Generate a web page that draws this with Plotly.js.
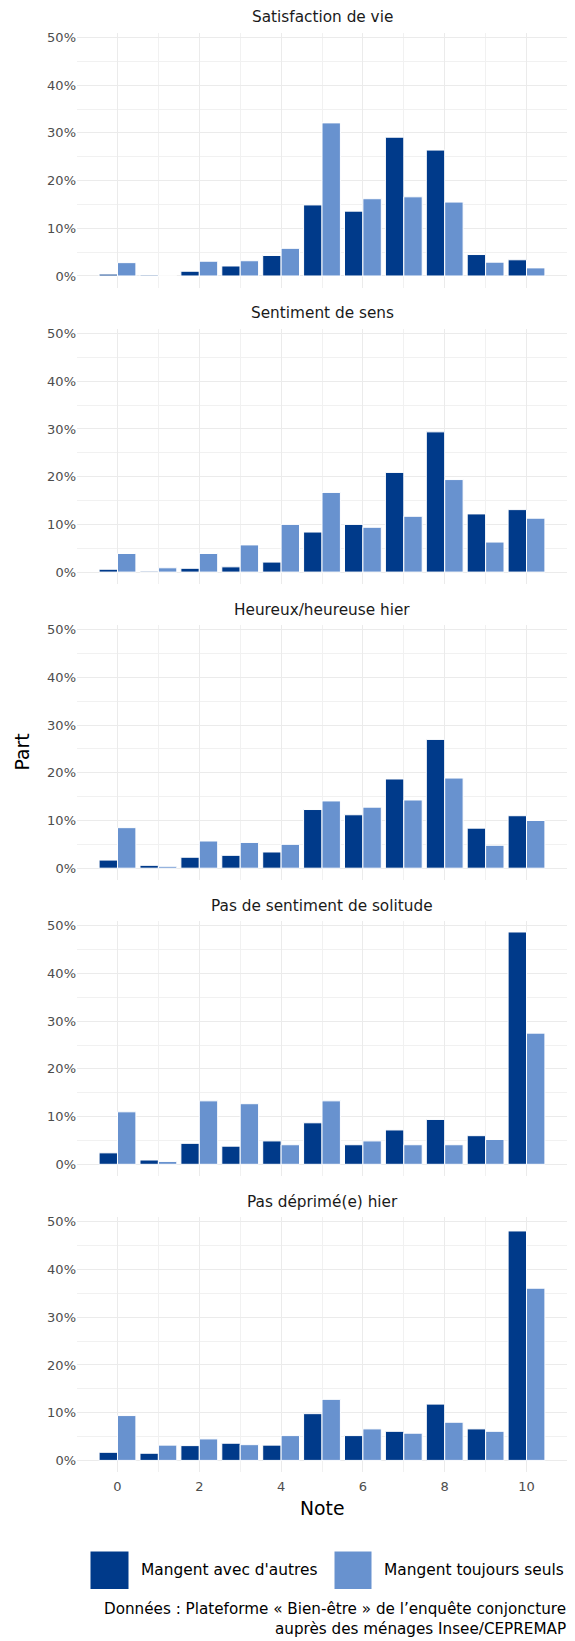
<!DOCTYPE html>
<html>
<head>
<meta charset="utf-8">
<script src="https://cdn.plot.ly/plotly-3.0.1.min.js"></script>
<style>
html,body{margin:0;padding:0;background:#fff;}
#chart{width:575px;height:1641px;}
</style>
</head>
<body>
<div id="chart"></div>
<script>
// ---------- DATA ----------
const notes = [0,1,2,3,4,5,6,7,8,9,10];
const panelTitles = ["Satisfaction de vie","Sentiment de sens","Heureux/heureuse hier","Pas de sentiment de solitude","Pas déprimé(e) hier"];
const seriesNames = ["Mangent avec d'autres","Mangent toujours seuls"];
const seriesColors = ["#003A8A","#6892CF"];

const avecSatisfaction = [0.4,0.2,1.0,2.1,4.3,14.9,13.6,29.1,26.4,4.5,3.4];
const seulsSatisfaction = [2.8,0.0,3.1,3.2,5.8,32.1,16.2,16.6,15.5,2.9,1.7];
const avecSens = [0.6,0.2,0.8,1.1,2.1,8.4,10.0,20.9,29.4,12.2,13.1];
const seulsSens = [3.9,0.9,3.9,5.7,10.0,16.7,9.4,11.7,19.4,6.3,11.3];
const avecHeureux = [1.7,0.6,2.3,2.7,3.4,12.3,11.2,18.7,27.0,8.4,11.0];
const seulsHeureux = [8.5,0.4,5.7,5.4,5.0,14.1,12.8,14.3,18.9,4.8,10.0];
const avecSolitude = [2.4,0.9,4.4,3.8,4.9,8.7,4.1,7.2,9.4,6.0,48.7];
const seulsSolitude = [11.0,0.6,13.3,12.7,4.1,13.3,4.9,4.1,4.1,5.2,27.5];
const avecDeprime = [1.7,1.5,3.1,3.6,3.2,9.8,5.2,6.1,11.8,6.6,48.1];
const seulsDeprime = [9.4,3.2,4.5,3.3,5.2,12.8,6.6,5.7,8.0,6.1,36.1];

const xTickVals = [0,2,4,6,8,10];
const xTickText = ["0","2","4","6","8","10"];
const yTickVals = [0,10,20,30,40,50];
const yTickText = ["0%","10%","20%","30%","40%","50%"];

const xTitle = "Note";
const yTitle = "Part";
const captionLines = ["Données : Plateforme « Bien-être » de l’enquête conjoncture","auprès des ménages Insee/CEPREMAP"];

// ---------- LAYOUT ----------
const W = 575, H = 1641;
const FONT = "'DejaVu Sans', sans-serif";
const avecAll = [avecSatisfaction, avecSens, avecHeureux, avecSolitude, avecDeprime];
const seulsAll = [seulsSatisfaction, seulsSens, seulsHeureux, seulsSolitude, seulsDeprime];

const plotLeft = 77, plotRight = 567;
const firstZero = 276, panelStep = 296.1, pxPerPct = 4.77;
const yMin = -2.43, yMax = 51.03;
const py = p => 1 - p / H;
const px = p => p / W;

const traces = [];
const layout = {
  width: W, height: H,
  margin: {l:0, r:0, t:0, b:0},
  paper_bgcolor: "#fff", plot_bgcolor: "#fff",
  barmode: "group", bargap: 0.1, bargroupgap: 0,
  showlegend: false,
  font: {family: FONT, color: "#1A1A1A"},
  annotations: [], shapes: []
};

for (let k = 0; k < 5; k++) {
  const sfx = k === 0 ? "" : String(k + 1);
  const zero = firstZero + panelStep * k;
  const top = zero - yMax * pxPerPct;
  const bottom = zero - yMin * pxPerPct;
  [avecAll[k], seulsAll[k]].forEach((vals, s) => {
    traces.push({
      type: "bar", x: notes, y: vals, name: seriesNames[s],
      xaxis: "x" + sfx, yaxis: "y" + sfx,
      marker: {color: seriesColors[s], line: {color: "#ffffff", width: 1}},
      hovertemplate: "%{x} : %{y:.1f}%<extra>" + seriesNames[s] + "</extra>"
    });
  });
  layout["xaxis" + sfx] = {
    domain: [px(plotLeft), px(plotRight)], anchor: "y" + sfx,
    range: [-0.99, 10.99],
    tickmode: "array", tickvals: xTickVals, ticktext: xTickText,
    showticklabels: k === 4, ticks: "",
    tickfont: {size: 13, color: "#4D4D4D", family: FONT},
    showgrid: true, gridcolor: "#EBEBEB", gridwidth: 1.2,
    minor: {dtick: 1, tick0: 0, showgrid: true, gridcolor: "#F1F1F1", gridwidth: 1},
    zeroline: false, showline: false, fixedrange: true,
    ticklabelstandoff: 5
  };
  layout["yaxis" + sfx] = {
    domain: [py(bottom), py(top)], anchor: "x" + sfx,
    range: [yMin, yMax],
    tickmode: "array", tickvals: yTickVals, ticktext: yTickText,
    ticks: "", tickfont: {size: 13, color: "#4D4D4D", family: FONT},
    showgrid: true, gridcolor: "#EBEBEB", gridwidth: 1.2,
    minor: {dtick: 5, tick0: 0, showgrid: true, gridcolor: "#F1F1F1", gridwidth: 1},
    zeroline: false, showline: false, fixedrange: true,
    ticklabelstandoff: 8.5
  };
  layout.annotations.push({
    text: panelTitles[k], xref: "paper", yref: "paper",
    x: px((plotLeft + plotRight) / 2), y: py(17.3 + panelStep * k),
    xanchor: "center", yanchor: "middle", showarrow: false,
    font: {size: 15.3, color: "#1A1A1A", family: FONT}
  });
}

// axis titles
layout.annotations.push({
  text: xTitle, xref: "paper", yref: "paper",
  x: px((plotLeft + plotRight) / 2), y: py(1508.3),
  xanchor: "center", yanchor: "middle", showarrow: false,
  font: {size: 18.8, color: "#000", family: FONT}
});
layout.annotations.push({
  text: yTitle, xref: "paper", yref: "paper", textangle: -90,
  x: px(22), y: py(752.5),
  xanchor: "center", yanchor: "middle", showarrow: false,
  font: {size: 18.8, color: "#000", family: FONT}
});

// legend (drawn manually to match the large keys)
const legendKeys = [{x0: 90, x1: 129, tx: 139}, {x0: 334, x1: 372, tx: 382}];
legendKeys.forEach((lk, s) => {
  layout.shapes.push({
    type: "rect", xref: "paper", yref: "paper",
    x0: px(lk.x0), x1: px(lk.x1), y0: py(1589.5), y1: py(1551),
    fillcolor: seriesColors[s], line: {color: "#ffffff", width: 1}
  });
  layout.annotations.push({
    text: seriesNames[s], xref: "paper", yref: "paper",
    x: px(lk.tx), y: py(1570), xanchor: "left", yanchor: "middle",
    showarrow: false, font: {size: 15.4, color: "#000", family: FONT}
  });
});

// caption (one block, right aligned)
layout.annotations.push({
  text: captionLines.join("<br>"), xref: "paper", yref: "paper",
  x: px(568), y: py(1640), xanchor: "right", yanchor: "bottom", align: "right",
  showarrow: false, font: {size: 15.2, color: "#000", family: FONT}
});

Plotly.newPlot("chart", traces, layout, {displayModeBar: false, staticPlot: false, responsive: false});
</script>
</body>
</html>
